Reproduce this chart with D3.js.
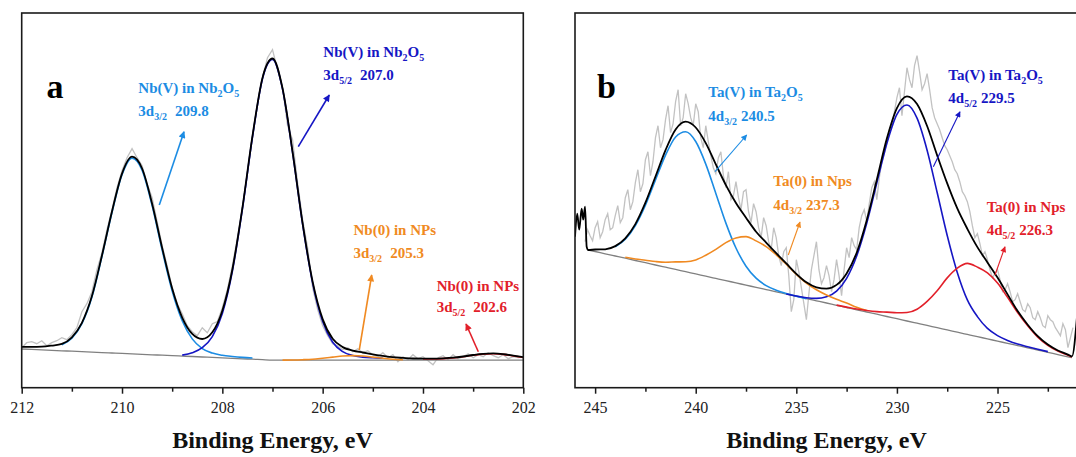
<!DOCTYPE html>
<html>
<head>
<meta charset="utf-8">
<script src="https://cdn.jsdelivr.net/npm/d3@7"></script>
<style>
  body { margin: 0; background: #fff; }
  svg { display: block; font-family: "Liberation Serif", "Times New Roman", serif; }
</style>
</head>
<body>
<svg id="chart" width="1076" height="457"></svg>
<script>
// ---- panel a: Nb 3d (intensity in a.u.) ----
const nbFitEnergy = [212.0, 211.8, 211.6, 211.4, 211.2, 211.0, 210.8, 210.6, 210.4, 210.2, 210.0, 209.8, 209.6, 209.4, 209.2, 209.0, 208.8, 208.6, 208.4, 208.2, 208.0, 207.8, 207.6, 207.4, 207.2, 207.0, 206.8, 206.6, 206.4, 206.2, 206.0, 205.8, 205.6, 205.4, 205.2, 205.0, 204.8, 204.6, 204.4, 204.2, 204.0, 203.8, 203.6, 203.4, 203.2, 203.0, 202.8, 202.6, 202.4, 202.2, 202.0];
const nbBackground = [38.7, 38.3, 37.8, 37.4, 36.9, 36.5, 36.0, 35.6, 35.1, 34.7, 34.3, 33.8, 33.4, 32.9, 32.5, 32.0, 31.6, 31.2, 30.7, 30.3, 29.8, 29.4, 28.9, 28.5, 28.0, 27.6, 27.6, 27.6, 27.6, 27.6, 27.6, 27.6, 27.6, 27.6, 27.6, 27.6, 27.6, 27.6, 27.6, 27.6, 27.6, 27.6, 27.6, 27.6, 27.6, 27.6, 27.6, 27.6, 27.6, 27.6, 27.6];
const nbEnvelope = [40.9, 40.8, 41.0, 42.1, 43.8, 50.4, 64.9, 91.6, 132.2, 176.2, 214.1, 231.0, 219.2, 184.0, 139.8, 99.2, 70.1, 53.8, 48.7, 55.4, 76.9, 118.2, 179.9, 251.5, 309.8, 329.2, 299.4, 235.8, 164.5, 106.1, 68.6, 48.9, 40.6, 37.1, 35.2, 33.3, 31.8, 30.5, 29.8, 29.2, 29.1, 29.1, 29.4, 30.0, 31.2, 32.7, 33.9, 34.3, 33.6, 32.1, 30.5];
const nbV32 = [null, null, null, null, 42.9, 49.5, 64.0, 90.6, 131.3, 175.2, 212.9, 229.6, 217.6, 182.1, 137.6, 96.7, 66.9, 48.8, 39.1, 34.6, 32.4, 31.2, 30.3, 29.7, null, null, null, null, null, null, null, null, null, null, null, null, null, null, null, null, null, null, null, null, null, null, null, null, null, null, null];
const nbV52 = [null, null, null, null, null, null, null, null, null, null, null, null, null, null, null, null, 32.6, 35.0, 40.0, 51.1, 74.3, 116.4, 178.5, 250.3, 308.8, 328.3, 298.6, 235.0, 163.4, 104.6, 66.1, 45.4, 36.0, 32.1, 30.6, 29.9, 29.5, null, null, null, null, null, null, null, null, null, null, null, null, null, null];
const nb0_32 = [null, null, null, null, null, null, null, null, null, null, null, null, null, null, null, null, null, null, null, null, null, null, null, null, null, null, 27.6, 27.7, 28.0, 28.5, 29.5, 30.6, 31.7, 32.1, 31.7, 30.6, 29.5, 28.5, 28.0, null, null, null, null, null, null, null, null, null, null, null, null];
const nb0_52 = [null, null, null, null, null, null, null, null, null, null, null, null, null, null, null, null, null, null, null, null, null, null, null, null, null, null, null, null, null, null, null, null, null, null, null, null, null, null, null, null, 28.8, 28.8, 29.1, 29.7, 30.9, 32.4, 33.6, 34.0, 33.3, 31.8, 30.2];
const nbRawEnergy = [212.0, 211.9, 211.8, 211.7, 211.6, 211.5, 211.4, 211.3, 211.2, 211.1, 211.0, 210.9, 210.8, 210.7, 210.6, 210.5, 210.4, 210.3, 210.2, 210.1, 210.0, 209.9, 209.8, 209.7, 209.6, 209.5, 209.4, 209.3, 209.2, 209.1, 209.0, 208.9, 208.8, 208.7, 208.6, 208.5, 208.4, 208.3, 208.2, 208.1, 208.0, 207.9, 207.8, 207.7, 207.6, 207.5, 207.4, 207.3, 207.2, 207.1, 207.0, 206.9, 206.8, 206.7, 206.6, 206.5, 206.4, 206.3, 206.2, 206.1, 206.0, 205.9, 205.8, 205.7, 205.6, 205.5, 205.4, 205.3, 205.2, 205.1, 205.0, 204.9, 204.8, 204.7, 204.6, 204.5, 204.4, 204.3, 204.2, 204.1, 204.0, 203.9, 203.8, 203.7, 203.6, 203.5, 203.4, 203.3, 203.2, 203.1, 203.0, 202.9, 202.8, 202.7, 202.6, 202.5, 202.4, 202.3, 202.2, 202.1, 202.0];
const nbRaw = [40, 45, 46, 44, 47, 42, 45, 47, 50, 48, 53, 60, 76, 84, 96, 118, 135, 158, 178, 200, 217, 230, 239, 230, 222, 204, 190, 166, 142, 122, 100, 84, 74, 62, 56, 52, 60, 55, 64, 66, 80, 98, 122, 150, 180, 214, 250, 282, 310, 330, 338, 318, 300, 262, 248, 205, 168, 140, 100, 78, 62, 52, 44, 42, 38, 40, 36, 39, 35, 37, 33, 31, 35, 30, 33, 26, 31, 28, 33, 29, 31, 27, 23, 30, 32, 28, 33, 29, 31, 34, 30, 33, 31, 35, 32, 30, 33, 29, 31, 30, 31];
const nbTicks = [212, 210, 208, 206, 204, 202];
const nbMinorTicks = [211, 209, 207, 205, 203];
const nbSpecies = ["Nb(V) in Nb_2O_5", "Nb(V) in Nb_2O_5", "Nb(0) in NPs", "Nb(0) in NPs"];
const nbLevels = ["3d_{3/2}", "3d_{5/2}", "3d_{3/2}", "3d_{5/2}"];
const nbPeakEnergies = ["209.8", "207.0", "205.3", "202.6"];

// ---- panel b: Ta 4d (intensity in a.u.) ----
const taFitEnergy = [246.0, 245.89, 245.79, 245.67, 245.59, 245.5, 245.42, 245.34, 245.0, 244.5, 244.0, 243.5, 243.0, 242.5, 242.0, 241.5, 241.0, 240.5, 240.0, 239.5, 239.0, 238.5, 238.0, 237.5, 237.0, 236.5, 236.0, 235.5, 235.0, 234.5, 234.0, 233.5, 233.0, 232.5, 232.0, 231.5, 231.0, 230.5, 230.0, 229.5, 229.0, 228.5, 228.0, 227.5, 227.0, 226.5, 226.0, 225.5, 225.0, 224.5, 224.0, 223.5, 223.0, 222.5, 222.0, 221.5, 221.3, 221.05];
const taBackground = [null, null, null, null, null, null, null, 137.7, 136.2, 133.9, 131.7, 129.5, 127.2, 125.0, 122.7, 120.5, 118.3, 116.0, 113.8, 111.5, 109.3, 107.1, 104.8, 102.6, 100.3, 98.1, 95.9, 93.6, 91.4, 89.1, 86.9, 84.7, 82.4, 80.2, 77.9, 75.7, 73.5, 71.2, 69.0, 66.7, 64.5, 62.3, 60.0, 57.8, 55.5, 53.3, 51.1, 48.8, 46.6, 44.3, 42.1, 39.9, 37.6, 35.4, 33.1, 30.9, 30.0, null];
const taEnvelope = [151, 174, 158, 179, 168, 181, 141, 137.7, 138.2, 138.4, 141.6, 149.4, 163.6, 185.0, 211.2, 237.6, 258.2, 266.0, 260.2, 244.6, 223.3, 202.6, 184.7, 170.0, 156.0, 145.1, 134.5, 124.3, 113.9, 105.4, 100.4, 99.1, 102.8, 114.3, 135.0, 167.5, 208.0, 249.1, 279.6, 291.4, 283.7, 261.7, 232.3, 204.3, 179.3, 158.9, 140.6, 125.3, 110.1, 93.3, 76.6, 63.0, 51.5, 43.1, 37.2, 33.1, 31.3, 71];
const taV32 = [null, null, null, null, null, null, null, null, null, null, 140.9, 148.4, 162.1, 182.5, 207.7, 232.6, 250.7, 256.0, 246.2, 223.6, 194.3, 164.6, 139.7, 121.5, 109.5, 102.1, 97.5, 94.2, 91.6, 89.1, null, null, null, null, null, null, null, null, null, null, null, null, null, null, null, null, null, null, null, null, null, null, null, null, null, null, null, null];
const taV52 = [null, null, null, null, null, null, null, null, null, null, null, null, null, null, null, null, null, null, null, null, null, null, null, null, null, null, null, 93.7, 91.7, 89.9, 89.3, 90.9, 96.6, 109.4, 131.7, 164.5, 204.6, 244.2, 273.3, 282.7, 269.5, 237.5, 195.2, 152.2, 115.3, 87.9, 71.1, 59.3, 52.1, 47.3, 43.6, 41.0, 38.5, 36.1, null, null, null, null];
const ta0_32 = [null, null, null, null, null, null, null, null, null, null, null, 130.5, 128.7, 127.5, 126.2, 125.5, 125.8, 126.0, 127.8, 132.5, 138.3, 145.1, 149.8, 151.1, 146.8, 141.1, 132.9, 123.6, 113.4, 104.6, 97.9, 92.7, 88.4, 84.7, 80.4, 77.2, null, null, null, null, null, null, null, null, null, null, null, null, null, null, null, null, null, null, null, null, null, null];
const ta0_52 = [null, null, null, null, null, null, null, null, null, null, null, null, null, null, null, null, null, null, null, null, null, null, null, null, null, null, null, null, null, null, null, null, 82.6, 80.6, 78.7, 77.2, 76.1, 75.6, 75.0, 75.2, 78.5, 86.3, 97.0, 109.8, 119.5, 124.3, 120.6, 114.8, 104.6, 90.3, 75.1, 61.9, 50.6, 42.4, 36.6, 32.5, 30.8, null];
const taRawEnergy = [245.5, 245.375, 245.25, 245.125, 245.0, 244.875, 244.75, 244.625, 244.5, 244.375, 244.25, 244.125, 244.0, 243.875, 243.75, 243.625, 243.5, 243.375, 243.25, 243.125, 243.0, 242.875, 242.75, 242.625, 242.5, 242.375, 242.25, 242.125, 242.0, 241.875, 241.75, 241.625, 241.5, 241.375, 241.25, 241.125, 241.0, 240.875, 240.75, 240.625, 240.5, 240.375, 240.25, 240.125, 240.0, 239.875, 239.75, 239.625, 239.5, 239.375, 239.25, 239.125, 239.0, 238.875, 238.75, 238.625, 238.5, 238.375, 238.25, 238.125, 238.0, 237.875, 237.75, 237.625, 237.5, 237.375, 237.25, 237.125, 237.0, 236.875, 236.75, 236.625, 236.5, 236.375, 236.25, 236.125, 236.0, 235.875, 235.75, 235.625, 235.5, 235.375, 235.25, 235.125, 235.0, 234.875, 234.75, 234.625, 234.5, 234.375, 234.25, 234.125, 234.0, 233.875, 233.75, 233.625, 233.5, 233.375, 233.25, 233.125, 233.0, 232.875, 232.75, 232.625, 232.5, 232.375, 232.25, 232.125, 232.0, 231.875, 231.75, 231.625, 231.5, 231.375, 231.25, 231.125, 231.0, 230.875, 230.75, 230.625, 230.5, 230.375, 230.25, 230.125, 230.0, 229.875, 229.75, 229.625, 229.5, 229.375, 229.25, 229.125, 229.0, 228.875, 228.75, 228.625, 228.5, 228.375, 228.25, 228.125, 228.0, 227.875, 227.75, 227.625, 227.5, 227.375, 227.25, 227.125, 227.0, 226.875, 226.75, 226.625, 226.5, 226.375, 226.25, 226.125, 226.0, 225.875, 225.75, 225.625, 225.5, 225.375, 225.25, 225.125, 225.0, 224.875, 224.75, 224.625, 224.5, 224.375, 224.25, 224.125, 224.0, 223.875, 223.75, 223.625, 223.5, 223.375, 223.25, 223.125, 223.0, 222.875, 222.75, 222.625, 222.5, 222.375, 222.25, 222.125, 222.0, 221.875, 221.75, 221.625, 221.5, 221.375, 221.25];
const taRaw = [146, 158, 152, 147, 160, 166, 150, 156, 168, 174, 158, 160, 172, 182, 165, 170, 190, 198, 178, 186, 205, 218, 196, 204, 228, 236, 212, 226, 250, 262, 240, 248, 268, 282, 255, 264, 286, 298, 262, 270, 294, 284, 270, 262, 284, 276, 250, 240, 262, 246, 232, 220, 214, 230, 236, 212, 200, 216, 188, 192, 206, 190, 178, 196, 198, 176, 165, 184, 176, 160, 150, 170, 162, 146, 138, 160, 150, 132, 122, 136, 140, 112, 76, 88, 128, 116, 100, 84, 68, 94, 118, 132, 146, 118, 104, 110, 122, 112, 96, 108, 128, 112, 92, 118, 140, 130, 150, 142, 138, 160, 172, 178, 166, 184, 200, 206, 188, 210, 226, 234, 246, 258, 262, 276, 290, 300, 272, 296, 320, 308, 300, 322, 332, 316, 298, 304, 314, 298, 280, 270, 264, 258, 250, 242, 238, 232, 226, 218, 214, 206, 196, 192, 186, 176, 162, 150, 154, 144, 132, 136, 128, 118, 110, 114, 118, 108, 96, 98, 104, 96, 86, 88, 94, 86, 78, 76, 84, 80, 70, 68, 76, 70, 62, 60, 72, 68, 66, 60, 56, 52, 64, 58, 40, 50, 60];
const taTicks = [245, 240, 235, 230, 225];
const taMinorTicks = [242.5, 237.5, 232.5, 227.5, 222.5];
const taSpecies = ["Ta(V) in Ta_2O_5", "Ta(V) in Ta_2O_5", "Ta(0) in Nps", "Ta(0) in Nps"];
const taLevels = ["4d_{3/2}", "4d_{5/2}", "4d_{3/2}", "4d_{5/2}"];
const taPeakEnergies = ["240.5", "229.5", "237.3", "226.3"];

// callout anchors, in (eV, intensity): text x, line 1 y, line 2 y / arrow tail x,y, head x,y
const nbCallouts = [
    { text: [209.675, 294.4, 271.7], arrow: [209.257, 182.7, 208.764, 256] },
    { text: [205.987, 331.2, 307.7], arrow: [206.486, 241, 205.868, 292.7] },
    { text: [205.385, 152.7, 129.7], arrow: [205.27, 37.7, 205.022, 112.7] },
    { text: [203.727, 96.7, 75.7], arrow: [202.897, 36, 203.142, 63.7] }
];
const taCallouts = [
    { text: [239.375, 291, 267], arrow: [239.042, 216, 237.466, 252.7] },
    { text: [227.446, 307.7, 284.4], arrow: [228.19, 221, 226.865, 276] },
    { text: [236.144, 201.7, 177.7], arrow: [235.399, 132.7, 234.817, 165.7] },
    { text: [225.537, 176, 152.7], arrow: [225.125, 112.7, 224.628, 141] }
];

const peakColors = ["#1c8ce3", "#1616c4", "#f08a22", "#e2202a"];
const frameTop = 13, frameBottom = 387.7;

const svg = d3.select("#chart");

const panels = [
    {
        id: "a", fitEnergy: nbFitEnergy, background: nbBackground, envelope: nbEnvelope,
        components: [nbV32, nbV52, nb0_32, nb0_52], rawEnergy: nbRawEnergy, raw: nbRaw,
        ticks: nbTicks, minorTicks: nbMinorTicks, species: nbSpecies, levels: nbLevels,
        energies: nbPeakEnergies, callouts: nbCallouts,
        domain: [212, 202], range: [21.7, 523.3], letterPos: [46.5, 98], gap: 8, arrowWidth: 1.6, head: [9, 7]
    },
    {
        id: "b", fitEnergy: taFitEnergy, background: taBackground, envelope: taEnvelope,
        components: [taV32, taV52, ta0_32, ta0_52], rawEnergy: taRawEnergy, raw: taRaw,
        ticks: taTicks, minorTicks: taMinorTicks, species: taSpecies, levels: taLevels,
        energies: taPeakEnergies, callouts: taCallouts,
        domain: [246, 221], range: [575, 1078], letterPos: [597, 97.5], gap: 4, arrowWidth: 1.1, head: [7, 6]
    }
];

const defs = svg.append("defs");

function richText(sel, str, subSize) {
    let lowered = false;
    str.split(/(_\{[^}]*\}|_\w)/).filter(s => s.length).forEach(part => {
        if (part[0] === "_") {
            let t = part[1] === "{" ? part.slice(2, -1) : part.slice(1);
            sel.append("tspan").attr("font-size", subSize).attr("dy", lowered ? 0 : 4).text(t);
            lowered = true;
        } else {
            sel.append("tspan").attr("dy", lowered ? -4 : 0).text(part);
            lowered = false;
        }
    });
    return lowered;
}

panels.forEach(p => {
    let x = d3.scaleLinear().domain(p.domain).range(p.range);
    let y = d3.scaleLinear().domain([0, frameBottom - frameTop]).range([frameBottom, frameTop]);
    let g = svg.append("g");

    defs.append("clipPath").attr("id", "clip-" + p.id)
        .append("rect")
        .attr("x", p.range[0]).attr("y", frameTop)
        .attr("width", p.range[1] - p.range[0]).attr("height", frameBottom - frameTop);

    let plot = g.append("g").attr("clip-path", `url(#clip-${p.id})`);

    let rawLine = d3.line().x(d => x(d[0])).y(d => y(d[1]));
    let fitLine = d3.line().defined(d => d[1] != null).x(d => x(d[0])).y(d => y(d[1])).curve(d3.curveMonotoneX);
    let pairs = vals => p.fitEnergy.map((e, i) => [e, vals[i]]);

    plot.append("path")
        .attr("d", rawLine(p.rawEnergy.map((e, i) => [e, p.raw[i]])))
        .attr("fill", "none").attr("stroke", "#c2c2c2").attr("stroke-width", 1.3);

    plot.append("path")
        .attr("d", fitLine(pairs(p.background)))
        .attr("fill", "none").attr("stroke", "#808080").attr("stroke-width", 1.3);

    p.components.forEach((c, i) => {
        plot.append("path")
            .attr("d", fitLine(pairs(c)))
            .attr("fill", "none").attr("stroke", peakColors[i]).attr("stroke-width", 1.6);
    });

    plot.append("path")
        .attr("d", fitLine(pairs(p.envelope)))
        .attr("fill", "none").attr("stroke", "#000").attr("stroke-width", 1.8);

    // frame
    g.append("rect")
        .attr("x", p.range[0]).attr("y", frameTop)
        .attr("width", p.range[1] - p.range[0]).attr("height", frameBottom - frameTop)
        .attr("fill", "none").attr("stroke", "#1a1a1a").attr("stroke-width", 1.6);

    let axis = g.append("g").attr("transform", `translate(0,${frameBottom})`)
        .call(d3.axisBottom(x).tickValues(p.ticks).tickSize(6).tickPadding(8).tickFormat(d3.format("d")));
    axis.select(".domain").remove();
    axis.selectAll("line").attr("stroke", "#1a1a1a").attr("stroke-width", 1.5);
    axis.selectAll("text").attr("font-family", "Liberation Serif, serif").attr("font-size", 16).attr("fill", "#222");

    let minor = g.append("g").attr("transform", `translate(0,${frameBottom})`)
        .call(d3.axisBottom(x).tickValues(p.minorTicks).tickSize(4).tickFormat(""));
    minor.select(".domain").remove();
    minor.selectAll("line").attr("stroke", "#1a1a1a").attr("stroke-width", 1.5);

    g.append("text")
        .attr("x", (p.range[0] + p.range[1]) / 2).attr("y", 448)
        .attr("text-anchor", "middle")
        .attr("font-size", 24).attr("font-weight", "bold").attr("fill", "#111")
        .text("Binding Energy, eV");

    g.append("text")
        .attr("x", p.letterPos[0]).attr("y", p.letterPos[1])
        .attr("font-size", 34).attr("font-weight", "bold").attr("fill", "#000")
        .text(p.id);

    // callouts
    p.callouts.forEach((c, i) => {
        let color = peakColors[i];
        let mid = `head-${p.id}-${i}`;
        defs.append("marker").attr("id", mid)
            .attr("viewBox", "0 0 10 10").attr("refX", 9).attr("refY", 5)
            .attr("markerUnits", "userSpaceOnUse")
            .attr("markerWidth", p.head[0]).attr("markerHeight", p.head[1])
            .attr("orient", "auto")
            .append("path").attr("d", "M0,0L10,5L0,10z").attr("fill", color);

        g.append("line")
            .attr("x1", x(c.arrow[0])).attr("y1", y(c.arrow[1]))
            .attr("x2", x(c.arrow[2])).attr("y2", y(c.arrow[3]))
            .attr("stroke", color).attr("stroke-width", p.arrowWidth)
            .attr("marker-end", `url(#${mid})`);

        let t1 = g.append("text")
            .attr("x", x(c.text[0])).attr("y", y(c.text[1]))
            .attr("font-size", 15).attr("font-weight", "bold").attr("fill", color);
        richText(t1, p.species[i], 10);

        let t2 = g.append("text")
            .attr("x", x(c.text[0])).attr("y", y(c.text[2]))
            .attr("font-size", 15).attr("font-weight", "bold").attr("fill", color);
        let low = richText(t2, p.levels[i], 10);
        t2.append("tspan").attr("dy", low ? -4 : 0).attr("dx", p.gap).text(p.energies[i]);
    });
});
</script>
</body>
</html>
